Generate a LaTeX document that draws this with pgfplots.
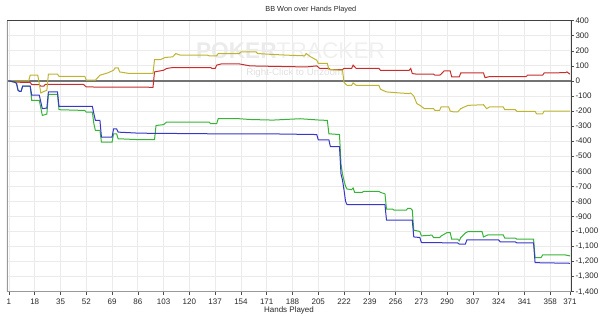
\documentclass[border=0pt]{standalone}
\usepackage{fontspec}
\setmainfont{Liberation Sans}
\usepackage{pgfplots}
\pgfplotsset{compat=1.18}
\definecolor{cred}{RGB}{200,45,45}
\definecolor{cyel}{RGB}{190,180,50}
\definecolor{cgrn}{RGB}{55,180,55}
\definecolor{cblu}{RGB}{55,55,200}
\definecolor{txt}{RGB}{40,40,40}
\begin{document}
\begin{tikzpicture}
\useasboundingbox (0,0) rectangle (450pt,237pt);
% watermark
\node[text=black!8,font=\fontsize{17pt}{18pt}\selectfont\bfseries,inner sep=0] at (217.9pt,198.75pt) {POKER\textcolor{black!6}{\mdseries TRACKER}};
\node[text=black!12,font=\fontsize{7.3pt}{8pt}\selectfont,inner sep=0] at (221pt,182.5pt) {Right-Click to Unzoom};
% title and x label
\node[text=txt,font=\fontsize{5.5pt}{6pt}\selectfont,inner sep=0] at (233.1pt,229.5pt) {BB Won over Hands Played};
\node[text=txt,font=\fontsize{6pt}{7pt}\selectfont,inner sep=0] at (216.75pt,4.5pt) {Hands Played};
\begin{axis}[
  at={(5.25pt,18.2pt)}, anchor=south west,
  width=423pt, height=203.25pt, scale only axis,
  xmin=-0.3, xmax=371.7, ymin=-1400, ymax=400,
  axis line style={draw=black!75, line width=0.6pt},
  xmajorgrids, ymajorgrids,
  grid style={draw=black!8, line width=0.6pt},
  tick align=outside, major tick length=2.4pt,
  tick style={draw=black!70, line width=0.5pt},
  xtick pos=bottom, ytick pos=right, yticklabel pos=right,
  xtick={1,18,35,52,69,86,103,120,137,154,171,188,205,222,239,256,273,290,307,324,341,358,371},
  xticklabels={1,18,35,52,69,86,103,120,137,154,171,188,205,222,239,256,273,290,307,324,341,358,371},
  ytick={-1400,-1300,-1200,-1100,-1000,-900,-800,-700,-600,-500,-400,-300,-200,-100,0,100,200,300,400},
  yticklabels={{-1,400},{-1,300},{-1,200},{-1,100},{-1,000},-900,-800,-700,-600,-500,-400,-300,-200,-100,0,100,200,300,400},
  xticklabel style={font=\fontsize{6pt}{7pt}\selectfont, text=txt, anchor=center, yshift=-5.0pt},
  yticklabel style={font=\fontsize{6pt}{7pt}\selectfont, text=txt, anchor=west, inner sep=0pt, xshift=0.8pt},
  clip=true,
]
\draw[draw=black!55, line width=1.4pt] (axis cs:-0.3,0) -- (axis cs:371.7,0);
% red
\addplot[cred, line width=0.75pt] coordinates {
(1,0) (5,-8) (15,-10) (16,-24) (21,-24) (22,-35) (24,-35) (25,-22) (50,-22) (52,-40) (96,-42) (97,60) (103,71) (105,83) (109,89) (127,89) (134,89) (135,83) (137,83) (138,105) (141,113) (153,113) (160,100) (175,97) (197,93) (204,100) (206,83) (212,83) (213,76) (221,76) (222,83) (227,83) (228,105) (230,83) (245,83) (246,71) (265,71) (266,83) (267,49) (270,45) (281,45) (282,38) (285,38) (286,45) (288,67) (292,67) (293,27) (298,27) (299,53) (314,53) (315,22) (318,29) (342,28) (343,38) (353,38) (354,53) (368,55) (369,60) (371,45)
};
% yellow
\addplot[cyel, line width=0.75pt] coordinates {
(1,0) (14,0) (15,38) (20,38) (21,-20) (22,-80) (24,-70) (26,-62) (27,45) (33,45) (34,31) (51,31) (52,5) (58,5) (61,38) (66,53) (70,71) (71,87) (73,87) (74,60) (80,50) (96,50) (97,142) (101,142) (104,156) (109,160) (111,182) (114,171) (127,171) (132,171) (133,167) (138,167) (139,182) (153,182) (154,193) (164,193) (165,182) (175,176) (185,171) (196,167) (197,182) (200,160) (204,138) (205,116) (211,116) (212,76) (221,71) (222,-10) (224,-29) (227,-29) (228,-13) (230,-29) (245,-29) (246,-55) (250,-73) (259,-80) (265,-84) (266,-80) (268,-100) (270,-150) (272,-162) (275,-184) (281,-184) (282,-196) (285,-196) (286,-173) (291,-173) (292,-200) (294,-205) (297,-205) (299,-184) (302,-170) (304,-162) (314,-158) (316,-184) (318,-173) (327,-173) (328,-191) (335,-191) (336,-202) (348,-202) (349,-218) (353,-218) (354,-200) (371,-200)
};
% green
\addplot[cgrn, line width=0.75pt] coordinates {
(1,0) (5,-8) (6,-17) (7,-62) (8,-69) (9,-69) (10,-35) (15,-35) (16,-129) (21,-129) (23,-229) (26,-220) (27,-89) (33,-89) (34,-191) (51,-196) (52,-207) (56,-207) (57,-284) (58,-329) (61,-329) (62,-407) (69,-407) (70,-351) (72,-351) (73,-384) (87,-390) (97,-390) (98,-296) (103,-290) (105,-273) (127,-273) (133,-273) (134,-284) (138,-284) (139,-251) (153,-251) (160,-256) (175,-260) (193,-251) (206,-260) (211,-262) (212,-351) (219,-356) (220,-551) (221,-620) (222,-662) (223,-700) (224,-718) (227,-722) (228,-711) (229,-740) (234,-740) (235,-733) (245,-733) (246,-740) (249,-750) (250,-851) (254,-851) (255,-858) (263,-858) (264,-847) (266,-847) (267,-858) (268,-991) (272,-1000) (273,-1029) (280,-1024) (281,-1040) (285,-1040) (286,-1030) (290,-1007) (292,-1007) (293,-1051) (297,-1051) (298,-1062) (299,-1040) (302,-1010) (304,-1000) (313,-1000) (314,-1036) (317,-1022) (327,-1022) (328,-1044) (335,-1044) (336,-1051) (347,-1051) (348,-1173) (352,-1173) (353,-1156) (368,-1156) (371,-1162)
};
% blue
\addplot[cblu, line width=0.75pt] coordinates {
(1,0) (5,-8) (6,-17) (7,-62) (8,-69) (9,-69) (10,-35) (15,-35) (16,-95) (21,-95) (23,-184) (26,-180) (27,-73) (33,-73) (34,-169) (56,-169) (57,-218) (58,-262) (61,-262) (62,-373) (69,-373) (70,-318) (72,-318) (73,-340) (87,-347) (135,-351) (170,-351) (204,-356) (205,-391) (212,-391) (213,-436) (219,-436) (220,-618) (221,-660) (222,-725) (223,-800) (224,-822) (249,-822) (250,-924) (267,-924) (268,-1036) (272,-1040) (273,-1073) (297,-1076) (298,-1084) (302,-1084) (303,-1056) (324,-1056) (325,-1069) (335,-1069) (336,-1076) (347,-1076) (348,-1207) (371,-1211)
};
\draw[draw=black!40, line width=1.4pt] (rel axis cs:0,1) -- (rel axis cs:0,0) -- (rel axis cs:1,0);
\end{axis}
\end{tikzpicture}
\end{document}
